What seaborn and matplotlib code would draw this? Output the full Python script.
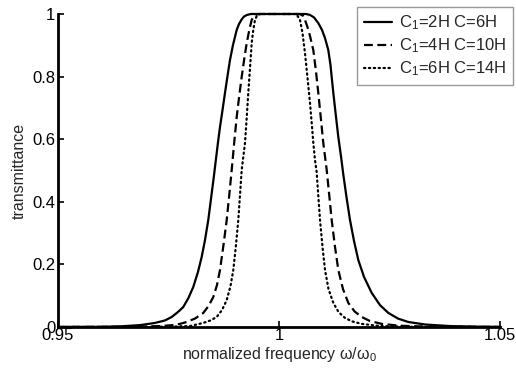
import matplotlib
matplotlib.use("Agg")
import matplotlib.pyplot as plt
import seaborn as sns
import pandas as pd

# ---- data ----
solid_x = [0.9500, 0.9595, 0.9640, 0.96855, 0.97195, 0.97421, 0.97572, 0.97715, 0.97835, 0.97952,
           0.98061, 0.98167, 0.98251, 0.98326, 0.98400, 0.98462, 0.98529, 0.98563, 0.98620, 0.98665,
           0.98722, 0.98778, 0.98835, 0.98891, 0.98959, 0.99043, 0.99095, 0.99152, 0.99208, 0.99276,
           0.99367,
           1.00611, 1.00701, 1.00792, 1.00889, 1.00973, 1.01041, 1.01115, 1.01165, 1.01199, 1.01229,
           1.01285, 1.01342, 1.01403, 1.01455, 1.01527, 1.01606, 1.01697, 1.01794, 1.01923, 1.02097,
           1.02285, 1.02473, 1.02692, 1.02925, 1.03303, 1.03869, 1.04548, 1.0500]
solid_T = [0.0003, 0.0006, 0.002, 0.006, 0.013, 0.021, 0.032, 0.048, 0.064, 0.093,
           0.128, 0.176, 0.224, 0.278, 0.342, 0.410, 0.484, 0.524, 0.590, 0.639,
           0.693, 0.748, 0.802, 0.853, 0.901, 0.949, 0.968, 0.982, 0.992, 0.997,
           1.0,
           1.0, 0.997, 0.989, 0.971, 0.949, 0.923, 0.885, 0.837, 0.789, 0.748,
           0.677, 0.607, 0.545, 0.487, 0.415, 0.342, 0.275, 0.214, 0.160, 0.109,
           0.070, 0.045, 0.027, 0.016, 0.008, 0.003, 0.001, 0.0005]

dashed_x = [0.9500, 0.96629, 0.97308, 0.97602, 0.97760, 0.97912, 0.98100, 0.98287, 0.98405, 0.98514,
            0.98597, 0.98665, 0.98744, 0.98817, 0.98875, 0.98930, 0.98986, 0.99043, 0.99100, 0.99156,
            0.99213, 0.99269, 0.99328, 0.99382, 0.99446, 0.99525,
            1.00475, 1.00543, 1.00588, 1.00645, 1.00701, 1.00776, 1.00833, 1.00889, 1.00946, 1.01002,
            1.01079, 1.01136, 1.01192, 1.01267, 1.01342, 1.01448, 1.01568, 1.01708, 1.01871, 1.02059,
            1.02324, 1.02738, 1.03416, 1.0500]
dashed_T = [0.0, 0.0006, 0.003, 0.006, 0.010, 0.016, 0.027, 0.045, 0.067, 0.096,
            0.134, 0.182, 0.262, 0.342, 0.422, 0.502, 0.588, 0.671, 0.738, 0.799,
            0.856, 0.907, 0.949, 0.981, 0.995, 1.0,
            1.0, 0.994, 0.981, 0.958, 0.930, 0.885, 0.821, 0.748, 0.668, 0.588,
            0.502, 0.422, 0.342, 0.256, 0.182, 0.121, 0.077, 0.050, 0.032, 0.019,
            0.010, 0.004, 0.001, 0.0]

dotted_x = [0.9500, 0.97081, 0.97647, 0.97986, 0.98287, 0.98450, 0.98590, 0.98710, 0.98817, 0.98903,
            0.98966, 0.99027, 0.99079, 0.99118, 0.99156, 0.99231, 0.99269, 0.99305, 0.99344, 0.99382,
            0.99418, 0.99457, 0.99502, 0.99570,
            1.00362, 1.00419, 1.00475, 1.00532, 1.00588, 1.00645, 1.00701, 1.00740, 1.00776, 1.00814,
            1.00852, 1.00889, 1.00928, 1.00984, 1.01041, 1.01120, 1.01229, 1.01346, 1.01493, 1.01652,
            1.01871, 1.02285, 1.02964, 1.0500]
dotted_T = [0.0, 0.0003, 0.0016, 0.003, 0.013, 0.021, 0.032, 0.054, 0.086, 0.131,
            0.182, 0.262, 0.342, 0.422, 0.502, 0.588, 0.668, 0.748, 0.827, 0.907,
            0.949, 0.981, 0.995, 1.0,
            1.0, 0.994, 0.981, 0.939, 0.875, 0.796, 0.716, 0.652, 0.588, 0.534,
            0.495, 0.419, 0.342, 0.256, 0.182, 0.121, 0.077, 0.048, 0.029, 0.018,
            0.010, 0.003, 0.0006, 0.0]

series_labels = ["C$_1$=2H C=6H", "C$_1$=4H C=10H", "C$_1$=6H C=14H"]
x_ticks = [0.95, 1.0, 1.05]
x_ticklabels = ["0.95", "1", "1.05"]
y_ticks = [0, 0.2, 0.4, 0.6, 0.8, 1.0]
y_ticklabels = ["0", "0.2", "0.4", "0.6", "0.8", "1"]

# ---- style ----
sns.set_style("ticks")
plt.rcParams["font.family"] = ["Liberation Sans", "DejaVu Sans"]
plt.rcParams["mathtext.default"] = "regular"

fig = plt.figure(figsize=(5.16, 3.68), dpi=100)
ax = fig.add_axes([58 / 516, 1 - 327 / 368, (500 - 58) / 516, (327 - 14) / 368])

frames = []
for xs, ts, lab in [(solid_x, solid_T, series_labels[0]),
                    (dashed_x, dashed_T, series_labels[1]),
                    (dotted_x, dotted_T, series_labels[2])]:
    frames.append(pd.DataFrame({"freq": xs, "T": ts, "config": lab}))
df = pd.concat(frames, ignore_index=True)

styles = {
    series_labels[0]: dict(linestyle="-"),
    series_labels[1]: dict(linestyle=(0, (4, 2))),
    series_labels[2]: dict(linestyle=(0, (0.6, 1.6)), dash_capstyle="round"),
}
for lab in series_labels:
    sub = df[df["config"] == lab]
    sns.lineplot(data=sub, x="freq", y="T", ax=ax, color="black", linewidth=1.6,
                 label=lab, estimator=None, sort=False, clip_on=False, **styles[lab])

ax.set_xlim(0.95, 1.05)
ax.set_ylim(0, 1)
ax.set_xticks(x_ticks)
ax.set_xticklabels(x_ticklabels)
ax.set_yticks(y_ticks)
ax.set_yticklabels(y_ticklabels)
ax.tick_params(direction="in", length=4, width=1.2, labelsize=12, pad=2, colors="black")
ax.tick_params(axis="x", pad=1)
for s in ["top", "right"]:
    ax.spines[s].set_visible(False)
for s in ["left", "bottom"]:
    ax.spines[s].set_linewidth(2)
    ax.spines[s].set_color("black")

ax.set_xlabel("normalized frequency ω/ω$_0$", fontsize=11.5, labelpad=1)
ax.set_ylabel("transmittance", fontsize=11.5, labelpad=4)

leg = ax.legend(loc="upper right", bbox_to_anchor=(513 / 516, 1 - 7 / 368),
                bbox_transform=fig.transFigure, frameon=True, fancybox=False,
                fontsize=12, handlelength=1.7, handletextpad=0.4,
                labelspacing=0.25, borderpad=0.4, borderaxespad=0)
leg.get_frame().set_edgecolor("#999999")
leg.get_frame().set_linewidth(1.0)
leg.get_frame().set_alpha(1)

fig.savefig("out.png", dpi=100, facecolor="white")
